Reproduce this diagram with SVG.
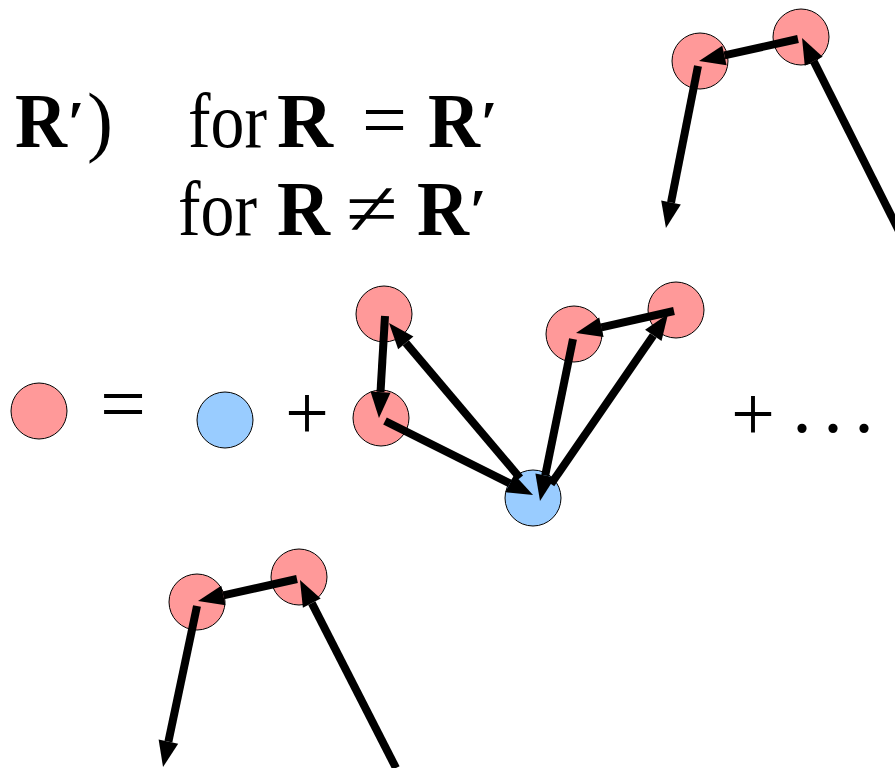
<svg xmlns="http://www.w3.org/2000/svg" width="895" height="768" viewBox="0 0 895 768">
<style>
.red{fill:#ff9999;stroke:#000;stroke-width:1}
.blue{fill:#99ccff;stroke:#000;stroke-width:1}
.ar{stroke:#000;stroke-width:8;fill:none;marker-end:url(#ah)}
.t{font-family:"Liberation Serif","Times New Roman",serif;font-size:78px;fill:#000}
.b{font-weight:bold}
.p{font-weight:bold;font-size:62px}
</style>
<defs>
<marker id="ah" markerUnits="userSpaceOnUse" markerWidth="28" markerHeight="22" refX="0" refY="10" orient="auto" overflow="visible">
<path d="M0,0 L26,10 L0,20 z" fill="#000"/>
</marker>
</defs>
<rect width="895" height="768" fill="#fff"/>
<g id="formula">
<text class="t b" y="147"><tspan x="15" textLength="52" lengthAdjust="spacingAndGlyphs">R</tspan><tspan class="p" x="67.5" y="143">′</tspan></text>
<text class="t" x="87" y="147">)</text>
<text class="t" x="188" y="147" textLength="79" lengthAdjust="spacingAndGlyphs">for</text>
<text class="t b" x="277" y="147" textLength="56" lengthAdjust="spacingAndGlyphs">R</text>
<text class="t" x="362" y="146" font-size="90" textLength="45" lengthAdjust="spacingAndGlyphs">=</text>
<text class="t b" y="147"><tspan x="428" textLength="52" lengthAdjust="spacingAndGlyphs">R</tspan><tspan class="p" x="480.5" y="143">′</tspan></text>
<text class="t" x="178" y="235" textLength="79" lengthAdjust="spacingAndGlyphs">for</text>
<text class="t b" x="277" y="235" textLength="53" lengthAdjust="spacingAndGlyphs">R</text>
<text class="t" x="346" y="235" font-size="90" textLength="52" lengthAdjust="spacingAndGlyphs">≠</text>
<text class="t b" y="235"><tspan x="417" textLength="52" lengthAdjust="spacingAndGlyphs">R</tspan><tspan class="p" x="469.5" y="231">′</tspan></text>
</g>
<g id="equation">
<text class="t" x="123" y="430" text-anchor="middle" font-size="70" textLength="46" lengthAdjust="spacingAndGlyphs">=</text>
<text class="t" x="307" y="438.5" text-anchor="middle" font-size="100">+</text>
<text class="t" x="753" y="439.5" text-anchor="middle" font-size="100">+</text>
<text class="t" x="802" y="432" text-anchor="middle" font-size="84">.</text>
<text class="t" x="833" y="432" text-anchor="middle" font-size="84">.</text>
<text class="t" x="864" y="432" text-anchor="middle" font-size="84">.</text>
</g>
<g id="node-top-a"><circle class="red" cx="700" cy="61" r="28"/></g>
<g id="node-top-b"><circle class="red" cx="801" cy="37" r="28"/></g>
<g id="node-lhs"><circle class="red" cx="39" cy="411" r="28"/></g>
<g id="node-bare"><circle class="blue" cx="225" cy="420" r="28"/></g>
<g id="node-c"><circle class="red" cx="381" cy="418" r="28"/></g>
<g id="node-d"><circle class="red" cx="384" cy="314" r="28"/></g>
<g id="node-e"><circle class="blue" cx="533" cy="498" r="28"/></g>
<g id="node-f"><circle class="red" cx="574" cy="334" r="28"/></g>
<g id="node-g"><circle class="red" cx="676" cy="310" r="28"/></g>
<g id="node-bot-h"><circle class="red" cx="197" cy="602" r="28"/></g>
<g id="node-bot-i"><circle class="red" cx="299" cy="577" r="28"/></g>
<g id="connectors">
<line class="ar" x1="798" y1="39" x2="724.4" y2="55.4"/>
<line class="ar" x1="698" y1="66" x2="671" y2="202.5"/>
<line class="ar" x1="904" y1="241" x2="813.7" y2="61.2"/>
<line class="ar" x1="385" y1="316" x2="380.5" y2="392.1"/>
<line class="ar" x1="520" y1="478" x2="405.8" y2="342.9"/>
<line class="ar" x1="385" y1="421" x2="509.8" y2="483.4"/>
<line class="ar" x1="674" y1="311" x2="601.4" y2="327.3"/>
<line class="ar" x1="573" y1="339" x2="545.2" y2="475.5"/>
<line class="ar" x1="551" y1="484" x2="653.3" y2="335.4"/>
<line class="ar" x1="297" y1="579" x2="223.4" y2="595.4"/>
<line class="ar" x1="197" y1="606" x2="168.4" y2="741.6"/>
<line class="ar" x1="396" y1="768" x2="311.8" y2="603.1"/>
</g>
</svg>
